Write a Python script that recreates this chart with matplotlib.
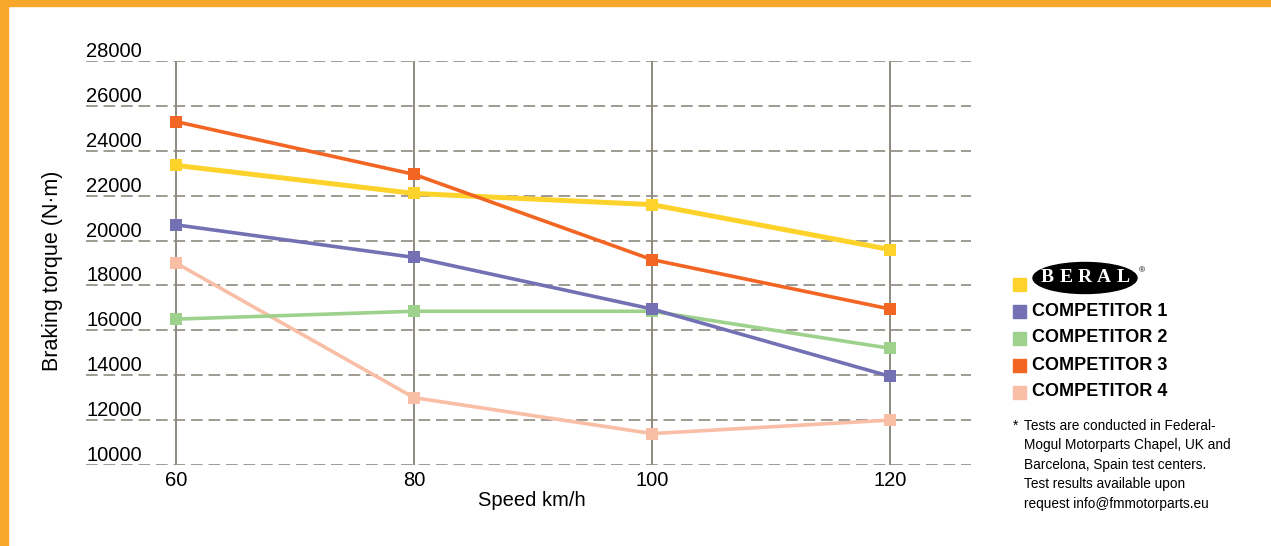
"""Braking torque vs speed chart."""
import matplotlib
matplotlib.use("Agg")
import matplotlib.pyplot as plt
from matplotlib.patches import Rectangle, Ellipse

speeds = [60, 80, 100, 120]
beral = [23350, 22100, 21600, 19600]
competitor_1 = [20700, 19250, 16950, 13950]
competitor_2 = [16500, 16850, 16850, 15200]
competitor_3 = [25300, 22950, 19150, 16950]
competitor_4 = [19000, 13000, 11400, 12000]
y_ticks = [10000, 12000, 14000, 16000, 18000, 20000, 22000, 24000, 26000, 28000]
legend_names = ["COMPETITOR 1", "COMPETITOR 2", "COMPETITOR 3", "COMPETITOR 4"]
footnote = ("Tests are conducted in Federal-\n"
            "Mogul Motorparts Chapel, UK and\n"
            "Barcelona, Spain test centers.\n"
            "Test results available upon\n"
            "request info@fmmotorparts.eu")

YELLOW = "#FDD22A"
PURPLE = "#7470B4"
GREEN = "#9ED28C"
ORANGE = "#F26522"
PINK = "#F8BEA6"
GRID = "#8E8A80"
BORDER = "#F9A72B"

SANS = ["Liberation Sans", "DejaVu Sans"]
SERIF = ["Liberation Serif", "DejaVu Serif"]

W, H = 1271, 546
fig = plt.figure(figsize=(W / 100, H / 100), dpi=100)
fig.patches.append(Rectangle((0, 1 - 6 / H), 1, 6 / H, transform=fig.transFigure,
                             color=BORDER, zorder=0))
fig.patches.append(Rectangle((0, 0), 8 / W, 1, transform=fig.transFigure,
                             color=BORDER, zorder=0))

ax = fig.add_axes([86 / W, 81 / H, 885 / W, 404 / H])
ax.set_xlim(52.44, 126.8)
ax.set_ylim(10000, 28000)
for s in ax.spines.values():
    s.set_visible(False)
ax.set_xticks([])
ax.set_yticks([])

# grid
for v in y_ticks:
    ax.axhline(v, color=GRID, lw=1.2, dashes=(7, 3.5), zorder=1)
    ax.text(0, v, str(v), transform=ax.get_yaxis_transform(), ha="left",
            va="bottom", fontsize=14.5, family=SANS)
for s in speeds:
    ax.axvline(s, color=GRID, lw=1.4, zorder=1)
    ax.text(s, -0.014, str(s), transform=ax.get_xaxis_transform(), ha="center",
            va="top", fontsize=14.5, family=SANS)

# series
series = [(competitor_4, PINK, 2.6), (competitor_2, GREEN, 2.6),
          (competitor_1, PURPLE, 2.6), (beral, YELLOW, 3.6),
          (competitor_3, ORANGE, 2.6)]
for vals, col, lw in series:
    ax.plot(speeds, vals, color=col, lw=lw, marker="s", markersize=8,
            markeredgewidth=0, zorder=3)

fig.text(532 / W, 1 - 500 / H, "Speed km/h", ha="center", va="center",
         fontsize=14.5, family=SANS)
fig.text(53 / W, 1 - 271 / H, "Braking torque (N\u00b7m)", rotation=90,
         ha="center", va="center", fontsize=15.5, family=SANS)

# legend
sq = 13
fig.patches.append(Rectangle((1013 / W, 1 - 291 / H), sq / W, sq / H,
                             transform=fig.transFigure, color=YELLOW))
fig.patches.append(Ellipse((1085 / W, 1 - 278 / H), 104 / W, 31 / H,
                           transform=fig.transFigure, color="black"))
for i, ch in enumerate("BERAL"):
    fig.text((1047 + i * 19) / W, 1 - 278 / H, ch, ha="center", va="center",
             fontsize=14, fontweight="bold", color="white", family=SERIF)
fig.text(1139 / W, 1 - 271 / H, "\u00ae", ha="left", va="center",
         fontsize=6, family=SANS)
rows_y = [311, 338, 365, 392]
for name, col, y in zip(legend_names, [PURPLE, GREEN, ORANGE, PINK], rows_y):
    fig.patches.append(Rectangle((1013 / W, 1 - (y + sq / 2) / H), sq / W,
                                 sq / H, transform=fig.transFigure, color=col))
    fig.text(1032 / W, 1 - y / H, name, ha="left", va="center",
             fontsize=13, fontweight="bold", family=SANS)

fig.text(1013 / W, 1 - 419 / H, "*", ha="left", va="top", fontsize=10,
         family=SANS)
fig.text(1024 / W, 1 - 419 / H, footnote, ha="left", va="top",
         fontsize=9.8, family=SANS, linespacing=1.49)

fig.savefig("out.png", dpi=100)
